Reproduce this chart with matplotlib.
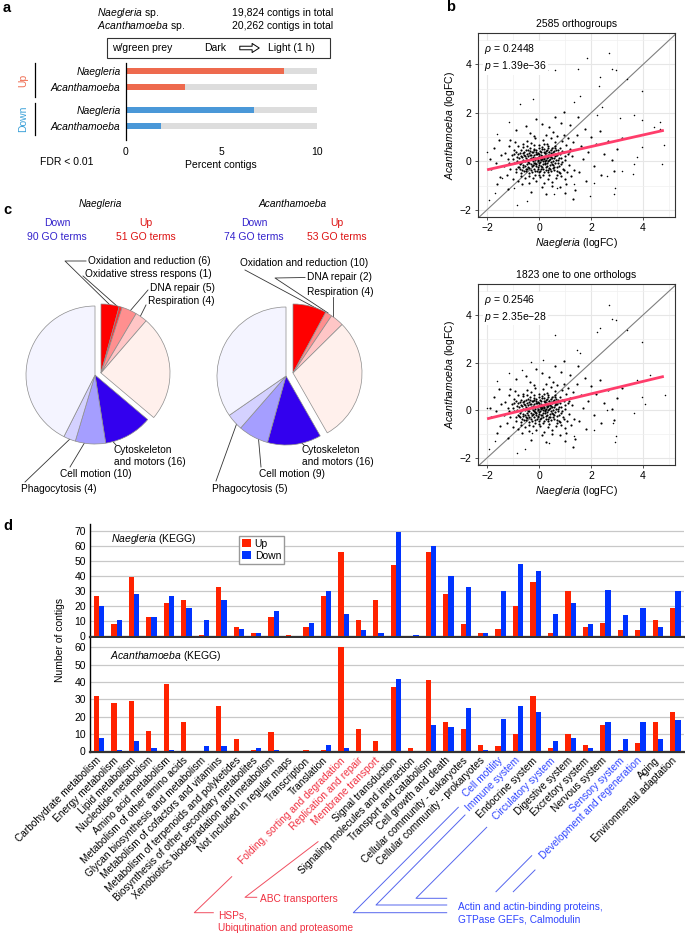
import numpy as np
import matplotlib
matplotlib.use('Agg')
import matplotlib.pyplot as plt

plt.rcParams['font.family'] = ['Liberation Sans', 'DejaVu Sans']
plt.rcParams['mathtext.fontset'] = 'custom'
plt.rcParams['mathtext.rm'] = 'Liberation Sans'
plt.rcParams['mathtext.it'] = 'Liberation Sans:italic'
plt.rcParams['font.size'] = 7.3

# ---------------- data ----------------
# a: percent of contigs changed (FDR < 0.01)
a_species = ['Naegleria', 'Acanthamoeba']
a_up = [8.3, 3.1]
a_down = [6.7, 1.85]
a_total = 10

# b: logFC scatter
cloud_pts = [
    (-0.75, -0.10), (-0.70, 0.22), (-0.66, -0.35), (-0.62, 0.05), (-0.58, 0.40), (-0.55, -0.18),
    (-0.52, 0.15), (-0.49, -0.42), (-0.46, 0.31), (-0.44, -0.02), (-0.41, 0.48), (-0.39, -0.27),
    (-0.36, 0.09), (-0.34, 0.26), (-0.31, -0.12), (-0.29, 0.38), (-0.27, -0.45), (-0.25, 0.02),
    (-0.22, 0.18), (-0.20, -0.30), (-0.18, 0.45), (-0.16, -0.08), (-0.13, 0.29), (-0.11, -0.20),
    (-0.09, 0.12), (-0.07, -0.38), (-0.05, 0.36), (-0.03, 0.00), (-0.01, 0.21), (0.01, -0.15),
    (0.03, 0.42), (0.05, -0.02), (0.07, 0.27), (0.09, -0.33), (0.11, 0.08), (0.13, 0.50),
    (0.15, -0.10), (0.17, 0.19), (0.19, -0.44), (0.21, 0.33), (0.23, 0.03), (0.25, -0.24),
    (0.27, 0.44), (0.29, 0.13), (0.31, -0.06), (0.33, 0.28), (0.35, -0.36), (0.37, 0.06),
    (0.39, 0.38), (0.41, -0.17), (0.43, 0.22), (0.45, 0.47), (0.47, -0.02), (0.50, 0.31),
    (0.53, -0.28), (0.56, 0.12), (0.59, 0.41), (0.62, -0.09), (0.65, 0.25), (0.68, -0.40),
    (0.71, 0.07), (0.74, 0.36), (0.77, -0.19), (-0.72, 0.35), (-0.60, -0.25), (-0.48, 0.06),
    (-0.38, -0.50), (-0.30, 0.12), (-0.21, 0.52), (-0.14, 0.05), (-0.06, -0.25), (0.00, 0.30),
    (0.06, 0.15), (0.12, -0.22), (0.18, 0.38), (0.24, -0.12), (0.30, 0.46), (0.36, 0.18),
    (0.42, -0.30), (0.48, 0.14), (0.54, -0.14), (0.60, 0.20), (0.66, 0.48), (0.72, -0.05),
    (-0.68, -0.48), (-0.57, 0.28), (-0.45, -0.33), (-0.33, 0.43), (-0.23, -0.15), (-0.10, 0.40),
    (-0.02, -0.45), (0.08, 0.04), (0.20, 0.09), (0.26, 0.24), (0.34, -0.46), (0.46, 0.34),
    (0.58, -0.35), (0.70, 0.28),
    (-0.85, 0.02), (-0.83, -0.22), (-0.80, 0.30), (-0.77, 0.12), (-0.74, -0.30), (-0.71, 0.45),
    (-0.69, -0.05), (-0.66, 0.18), (-0.63, -0.15), (-0.61, 0.33), (-0.59, -0.42), (-0.56, 0.02),
    (-0.54, 0.22), (-0.51, -0.30), (-0.50, 0.45), (-0.47, -0.10), (-0.43, 0.20), (-0.42, -0.22),
    (-0.40, 0.35), (-0.37, -0.05), (-0.35, 0.55), (-0.32, -0.35), (-0.30, 0.28), (-0.28, -0.20),
    (-0.26, 0.10), (-0.24, 0.40), (-0.21, -0.05), (-0.19, 0.25), (-0.17, -0.40), (-0.15, 0.15),
    (-0.12, 0.48), (-0.10, -0.12), (-0.08, 0.32), (-0.06, 0.06), (-0.04, -0.30), (-0.02, 0.55),
    (0.00, -0.08), (0.02, 0.15), (0.04, -0.38), (0.06, 0.40), (0.08, -0.18), (0.10, 0.24),
    (0.12, 0.60), (0.14, 0.02), (0.16, -0.30), (0.18, 0.12), (0.20, 0.50), (0.22, -0.05),
    (0.24, 0.36), (0.26, -0.35), (0.28, 0.05), (0.30, 0.22), (0.32, -0.20), (0.34, 0.55),
    (0.36, 0.00), (0.38, -0.28), (0.40, 0.26), (0.42, 0.08), (0.44, -0.42), (0.46, 0.16),
    (0.48, 0.55), (0.50, -0.10), (0.52, 0.40), (0.55, 0.00), (0.57, -0.22), (0.60, 0.30),
    (0.63, 0.55), (0.66, 0.05), (0.69, -0.25), (0.72, 0.45), (0.75, 0.15), (0.78, -0.45),
    (0.82, 0.30), (0.85, -0.12), (0.88, 0.42), (0.90, -0.02), (-0.88, 0.40), (-0.90, -0.30),
    (-0.62, 0.58), (-0.40, -0.62), (-0.20, 0.66), (0.00, -0.58), (0.20, 0.70), (0.40, -0.58),
    (0.60, 0.65), (0.80, -0.50), (-1.00, 0.10), (1.00, 0.20), (-0.15, -0.55), (0.15, -0.55),
    (0.35, 0.62), (-0.45, 0.62), (0.70, -0.55), (-0.70, -0.62), (1.15, 0.40), (-1.15, -0.05),
    (0.95, -0.35), (-0.95, 0.30),
    (-1.35, -0.20), (-1.30, 0.35), (-1.25, -0.55), (-1.20, 0.10), (-1.15, 0.62), (-1.10, -0.30),
    (-1.05, 0.25), (-1.00, -0.72), (-0.98, 0.48), (-0.95, -0.05), (-0.92, 0.80), (-0.88, -0.45),
    (-0.85, 0.18), (-0.82, 0.65), (-0.80, -0.80), (-0.78, -0.25), (0.80, 0.55), (0.83, -0.60),
    (0.86, 0.15), (0.89, 0.85), (0.92, -0.30), (0.95, 0.40), (0.98, -0.75), (1.01, 0.05),
    (1.04, 0.68), (1.07, -0.45), (1.10, 0.30), (1.13, 0.95), (1.16, -0.15), (1.20, 0.52),
    (1.24, -0.62), (1.28, 0.20), (1.32, 0.78), (1.36, -0.35), (-0.60, 0.70), (-0.45, 0.85),
    (-0.30, 0.75), (-0.15, 0.95), (0.00, 0.68), (0.15, 0.88), (0.30, 0.72), (0.45, 0.98),
    (0.60, 0.80), (0.70, 1.05), (-0.55, -0.70), (-0.40, -0.88), (-0.25, -0.68), (-0.10, -0.82),
    (0.05, -0.65), (0.20, -0.90), (0.35, -0.72), (0.50, -0.85), (0.65, -0.68), (0.25, 1.10),
    (-0.20, 1.05), (0.50, -1.00), (-0.65, -0.95), (0.95, 1.10), (1.05, -0.95), (-1.10, 0.90),
    (0.10, -1.05), (-0.35, 1.18), (0.55, 1.20), (0.80, -1.05),
    (-1.85, -0.30), (-1.75, 0.55), (-1.65, -0.05), (-1.55, 0.90), (-1.50, -0.65), (-1.45, 0.25),
    (-1.60, -0.95), (-1.90, 0.10), (1.45, 1.10), (1.55, -0.45), (1.60, 0.65), (1.70, 0.10),
    (1.75, 1.35), (1.80, -0.80), (1.90, 0.40), (2.00, 1.00), (2.10, -0.20), (2.20, 0.70),
    (2.35, 1.25), (2.40, -0.55), (2.50, 0.30), (2.65, 0.85), (-0.90, 1.30), (-0.50, 1.45),
    (0.10, 1.55), (0.40, 1.40), (0.85, 1.60), (1.20, 1.50), (1.40, -1.20), (-1.20, -1.15),
    (-0.30, -1.25), (0.25, -1.35), (1.00, -1.30), (1.50, 1.85), (0.95, 2.05), (0.60, 1.85),
    (-0.10, 1.75), (1.30, -1.55), (2.80, 0.05), (3.00, 0.50), (2.90, -0.40), (3.20, 0.95),
]
outliers_og = [
    (2.68, 4.46), (1.85, 4.28), (0.31, 3.79), (0.63, 3.77), (1.50, 3.82), (2.81, 3.82),
    (2.97, 3.77), (2.36, 3.49), (2.29, 3.10), (3.96, 2.89), (3.38, 3.38), (-0.23, 2.58),
    (-0.72, 2.37), (1.59, 2.68), (1.33, 2.47), (2.42, 2.26), (2.23, 1.91), (3.64, 1.91),
    (3.13, 1.77), (3.96, 1.70), (4.67, 1.63), (4.41, 1.42), (4.67, 1.35), (-1.17, 1.63),
    (-1.62, 1.14), (-2.00, 0.38), (4.79, 0.66), (3.96, 0.59), (3.77, 0.17), (3.64, -0.11),
    (4.73, -0.11), (3.19, -0.39), (3.62, -0.53), (2.10, -0.88), (2.62, -0.60), (2.92, -1.09),
    (2.90, -1.34), (-1.68, -1.30), (-0.85, -1.79), (-0.46, -1.65), (-1.94, -1.58), (0.56, -1.37),
    (1.33, -0.95), (1.97, -1.44), (0.69, -1.09), (-1.42, -0.67), (-0.97, -1.09),
]
outliers_oto = [
    (2.68, 4.40), (0.28, 3.78), (0.63, 3.15), (2.81, 3.81), (2.97, 3.78), (2.36, 3.47),
    (2.23, 3.29), (3.38, 3.36), (3.96, 2.85), (1.46, 2.53), (1.59, 2.39), (0.15, 2.11),
    (-0.31, 2.04), (-1.17, 1.58), (-0.65, 1.69), (-1.62, 1.21), (3.77, 1.28), (4.28, 1.49),
    (4.86, 0.65), (3.96, 0.56), (4.09, 0.28), (3.64, -0.11), (2.62, 0.03), (2.10, -0.81),
    (2.85, -0.53), (2.97, -1.08), (2.94, -1.33), (-1.68, -1.29), (-0.85, -1.81), (-0.53, -1.61),
    (-2.00, 0.10), (-1.94, -1.61), (0.37, -1.39), (1.33, -1.08), (-0.27, -0.94),
]
reg_x = [-2.0, 4.8]
reg_og = [-0.35, 1.28]
reg_oto = [-0.36, 1.42]

# c: GO term pies
nae_up = [6, 1, 5, 4, 35]
nae_down = [16, 10, 4, 60]
aca_up = [10, 2, 4, 37]
aca_down = [16, 9, 5, 44]

# d: KEGG categories
kegg = ['Carbohydrate metabolism', 'Energy metabolism', 'Lipid metabolism',
        'Nucleotide metabolism', 'Amino acid metabolism', 'Metabolism of other amino acids',
        'Glycan biosynthesis and metabolism', 'Metabolism of cofactors and vitamins',
        'Metabolism of terpenoids and polyketides', 'Biosynthesis of other secondary metabolites',
        'Xenobiotics biodegradation and metabolism', 'Not included in regular maps',
        'Transcription', 'Translation', 'Folding, sorting and degradation',
        'Replication and repair', 'Membrane transport', 'Signal transduction',
        'Signaling molecules and interaction', 'Transport and catabolism',
        'Cell growth and death', 'Cellular community - eukaryotes',
        'Cellular community - prokaryotes', 'Cell motility', 'Immune system',
        'Endocrine system', 'Circulatory system', 'Digestive system', 'Excretory system',
        'Nervous system', 'Sensory system', 'Development and regeneration', 'Aging',
        'Environmental adaptation']
nae_kegg_up = [27, 8, 39, 13, 22, 24, 1, 33, 6, 2, 13, 1, 6, 27, 56, 11, 24, 47, 0, 56,
               28, 8, 2, 5, 20, 36, 2, 30, 6, 9, 4, 4, 11, 19]
nae_kegg_down = [20, 11, 28, 13, 27, 19, 11, 24, 5, 2, 17, 0, 9, 30, 15, 4, 2, 69, 1, 60,
                 40, 33, 2, 30, 48, 43, 15, 22, 8, 31, 14, 19, 6, 30]
aca_kegg_up = [32, 28, 29, 12, 39, 17, 0, 26, 7, 1, 11, 0, 1, 1, 60, 13, 6, 37, 2, 41,
               17, 13, 4, 3, 10, 32, 2, 10, 4, 15, 1, 5, 17, 23]
aca_kegg_down = [8, 1, 6, 2, 1, 0, 3, 3, 0, 2, 1, 0, 0, 4, 2, 0, 0, 42, 0, 15,
                 14, 25, 1, 19, 26, 23, 6, 8, 2, 17, 7, 17, 7, 18]
kegg_red = ['Folding, sorting and degradation', 'Replication and repair', 'Membrane transport']
kegg_blue = ['Cell motility', 'Immune system', 'Circulatory system', 'Sensory system',
             'Development and regeneration']

# ---------------- figure ----------------
W, H = 685, 935
fig = plt.figure(figsize=(W / 100, H / 100), dpi=100)


def px_axes(x0, y0, x1, y1):
    return fig.add_axes([x0 / W, 1 - y1 / H, (x1 - x0) / W, (y1 - y0) / H])


ov = px_axes(0, 0, W, H)
ov.set_xlim(0, W)
ov.set_ylim(H, 0)
ov.axis('off')

RED_UP, BLUE_DN = '#EE6A4E', '#4A98D8'

# ---- panel a ----
ax_a = px_axes(126, 63, 316.7, 140)
ypos = [0, 1, 2.44, 3.44]
ax_a.barh(ypos, [a_total] * 4, height=0.4, color='#DDDDDD')
ax_a.barh(ypos[:2], a_up, height=0.4, color=RED_UP)
ax_a.barh(ypos[2:], a_down, height=0.4, color=BLUE_DN)
ax_a.set_xlim(0, 10)
ax_a.set_ylim(4.31, -0.5)
ax_a.set_yticks(ypos)
ax_a.set_yticklabels(a_species * 2, style='italic', fontsize=7.5)
ax_a.set_xticks([0, 5, 10])
ax_a.tick_params(length=0, labelsize=7.5)
ax_a.tick_params(axis='y', pad=4)
ax_a.tick_params(axis='x', pad=5)
for s in ['top', 'right', 'bottom']:
    ax_a.spines[s].set_visible(False)
ax_a.spines['left'].set_linewidth(0.9)

ov.text(97, 13, r'$\it{Naegleria}$ sp.', va='center', fontsize=7.5)
ov.text(97, 26, r'$\it{Acanthamoeba}$ sp.', va='center', fontsize=7.5)
ov.text(333, 13, '19,824 contigs in total', va='center', ha='right', fontsize=7.5)
ov.text(333, 26, '20,262 contigs in total', va='center', ha='right', fontsize=7.5)
ov.add_patch(plt.Rectangle((107, 38), 223, 20, fill=False, ec='#333333', lw=0.8))
ov.text(112, 48, 'w/green prey', va='center', fontsize=7.5)
ov.text(204, 48, 'Dark', va='center', fontsize=7.5)
ov.annotate('', xy=(262, 48), xytext=(237, 48),
            arrowprops=dict(arrowstyle='simple,head_width=0.9,head_length=0.7,tail_width=0.35',
                            fc='white', ec='black', lw=0.7))
ov.text(268, 48, 'Light (1 h)', va='center', fontsize=7.5)
ov.plot([35, 35], [63, 97], color='black', lw=0.9)
ov.plot([35, 35], [103, 135], color='black', lw=0.9)
ov.text(23, 80, 'Up', rotation=90, ha='center', va='center', color=RED_UP, fontsize=7.5)
ov.text(23, 119, 'Down', rotation=90, ha='center', va='center', color='#3AA0D8', fontsize=7.5)
ov.text(40, 162, 'FDR < 0.01', va='center', fontsize=7.5)
ov.text(221, 165, 'Percent contigs', va='center', ha='center', fontsize=7.5)

# ---- panel b ----
for box, title, outl, reg, rho, pval in [
        ((478, 33, 675, 217), '2585 orthogroups', outliers_og, reg_og, '0.2448', '1.39e\u221236'),
        ((478, 284, 675, 465), '1823 one to one orthologs', outliers_oto, reg_oto, '0.2546', '2.35e\u221228')]:
    ax = px_axes(*box)
    cloud = np.array(cloud_pts)
    outp = np.array(outl)
    ax.set_xlim(-2.35, 5.23)
    ax.set_ylim(-2.3, 5.3)
    ax.set_xticks([-2, 0, 2, 4])
    ax.set_yticks([-2, 0, 2, 4])
    ax.set_xticks([-1, 1, 3, 5], minor=True)
    ax.set_yticks([-1, 1, 3, 5], minor=True)
    ax.grid(which='major', color='#E6E6E6', lw=0.8)
    ax.grid(which='minor', color='#F0F0F0', lw=0.5)
    ax.set_axisbelow(True)
    ax.tick_params(which='minor', length=0)
    ax.tick_params(which='major', length=2.5, width=0.6, color='#333333', labelsize=7.5, pad=2)
    for s in ax.spines.values():
        s.set_color('#333333')
        s.set_linewidth(0.8)
    ax.axline((0, 0), slope=1, color='#7F7F7F', lw=0.8, zorder=2)
    ax.scatter(cloud[:, 0], cloud[:, 1], s=2.4, color='black', linewidths=0, zorder=3)
    ax.scatter(outp[:, 0], outp[:, 1], s=1.2, color='black', linewidths=0, zorder=3)
    ax.plot(reg_x, reg, color='#FF3D6B', lw=2.0, zorder=4, solid_capstyle='butt')
    ax.set_title(title, fontsize=7.5, pad=4)
    ax.set_xlabel(r'$\it{Naegleria}$ (logFC)', fontsize=7.5, labelpad=2)
    ax.set_ylabel(r'$\it{Acanthamoeba}$ (logFC)', fontsize=7.5, labelpad=2)
    ax.text(0.03, 0.95, r'$\it{\rho}$ = ' + rho + '\n' + r'$\it{p}$ = ' + pval,
            transform=ax.transAxes, va='top', ha='left', fontsize=7.5, linespacing=1.3,
            bbox=dict(fc='white', ec='none', pad=1), zorder=5)

# ---- panel c ----
pc = px_axes(0, 180, 400, 510)
edge = dict(edgecolor='#8C8C8C', linewidth=0.5)


def split_pie(up, down, up_cols, down_cols, cx, cy, dx, dy):
    total = sum(up) + sum(down)
    w1, _ = pc.pie(up + [sum(down)], colors=up_cols + ['white'], startangle=90,
                   counterclock=False, radius=69, center=(cx + dx, -cy + dy),
                   frame=True, wedgeprops=edge)
    w1[-1].set_visible(False)
    w2, _ = pc.pie(down + [sum(up)], colors=down_cols + ['white'],
                   startangle=90 - 360 * sum(up) / total, counterclock=False, radius=69,
                   center=(cx, -cy), frame=True, wedgeprops=edge)
    w2[-1].set_visible(False)


split_pie(nae_up, nae_down, ['#FF0000', '#FF3030', '#FF8F8F', '#FFC6C6', '#FFF0EC'],
          ['#3300EE', '#A59EFF', '#D4D1FF', '#F4F4FF'], 95, 375, 6, 2)
split_pie(aca_up, aca_down, ['#FF0000', '#FF8F8F', '#FFC6C6', '#FFF0EC'],
          ['#3300EE', '#A59EFF', '#D4D1FF', '#F4F4FF'], 286, 376, 7, 3)
pc.set_xlim(0, 400)
pc.set_ylim(-510, -180)
pc.axis('off')

DN_C, UP_C = '#3322CC', '#DD1111'
ov.text(100, 204, 'Naegleria', style='italic', ha='center', va='center')
ov.text(293, 204, 'Acanthamoeba', style='italic', ha='center', va='center')
for x, t1, t2, c in [(57, 'Down', '90 GO terms', DN_C), (146, 'Up', '51 GO terms', UP_C),
                     (254, 'Down', '74 GO terms', DN_C), (337, 'Up', '53 GO terms', UP_C)]:
    ov.text(x, 223, t1, ha='center', va='center', color=c, fontsize=7.5)
    ov.text(x, 237, t2, ha='center', va='center', color=c, fontsize=7.5)

pie_labels = [
    (88, 261, 'Oxidation and reduction (6)', [(86, 261), (65, 261), (111, 306)]),
    (85, 274, 'Oxidative stress respons (1)', [(83, 276), (118, 307)]),
    (150, 288, 'DNA repair (5)', [(148, 290), (130, 311)]),
    (148, 301, 'Respiration (4)', [(146, 305), (140, 317)]),
    (114, 450, 'Cytoskeleton', [(116, 445), (108, 436)]),
    (114, 462, 'and motors (16)', None),
    (60, 474, 'Cell motion (10)', [(70, 467), (88, 437)]),
    (21, 489, 'Phagocytosis (4)', [(25, 482), (72, 437)]),
    (240, 263, 'Oxidation and reduction (10)', [(245, 270), (325, 313)]),
    (307, 277, 'DNA repair (2)', [(305, 277.5), (275, 278), (328, 313)]),
    (307, 292, 'Respiration (4)', [(333, 297), (333, 320)]),
    (302, 450, 'Cytoskeleton', [(304, 445), (294, 436)]),
    (302, 462, 'and motors (16)', None),
    (259, 474, 'Cell motion (9)', [(261, 467), (258, 433)]),
    (212, 489, 'Phagocytosis (5)', [(216, 481), (238, 420)]),
]
for x, y, t, line in pie_labels:
    ov.text(x, y, t, va='center', ha='left')
    if line:
        ov.plot([p[0] for p in line], [p[1] for p in line], color='#333333', lw=0.6)
for x, t in [(60, 'Others\n60'), (142, 'Others\n35'), (252, 'Others\n44'), (336, 'Others\n37')]:
    ov.text(x, 372, t, ha='center', va='center', linespacing=1.5)

# ---- panel d ----
xs = np.arange(len(kegg))
RED_D, BLUE_D = '#FF2200', '#0033FF'
for box, up, dn, ylim, yt, name, name_xy in [
        ((90, 524, 684, 637), nae_kegg_up, nae_kegg_down, (-0.5, 74.5), range(0, 71, 10),
         r'$\it{Naegleria}$ (KEGG)', (0.7, 64.5)),
        ((90, 638, 684, 752), aca_kegg_up, aca_kegg_down, (-0.3, 65.4), range(0, 61, 10),
         r'$\it{Acanthamoeba}$ (KEGG)', (0.63, 54.8))]:
    ax = px_axes(*box)
    ax.bar(xs - 0.15, up, width=0.3, color=RED_D, label='Up', zorder=3)
    ax.bar(xs + 0.15, dn, width=0.3, color=BLUE_D, label='Down', zorder=3)
    ax.set_xlim(-0.52, 33.5)
    ax.set_ylim(*ylim)
    ax.set_yticks(list(yt))
    ax.yaxis.grid(True, color='#C8C8C8', lw=0.9)
    ax.set_axisbelow(True)
    for s in ['top', 'right']:
        ax.spines[s].set_visible(False)
    ax.spines['left'].set_linewidth(1.0)
    ax.spines['bottom'].set_linewidth(1.6)
    ax.spines['bottom'].set_color('#333333')
    ax.tick_params(axis='y', length=0, labelsize=7.5, pad=3)
    ax.tick_params(axis='x', length=0)
    ax.text(name_xy[0], name_xy[1], name, fontsize=7.5, va='center', ha='left')
    if up is nae_kegg_up:
        ax.set_xticks([])
        ax.legend(loc='upper left', bbox_to_anchor=(0.251, 0.894), borderaxespad=0,
                  fancybox=False, edgecolor='#999999', fontsize=7.5, handlelength=0.8,
                  handleheight=0.8, handletextpad=0.4, borderpad=0.3, labelspacing=0.15,
                  framealpha=1)
    else:
        ax.set_xticks(xs)
        ax.set_xticklabels(kegg, rotation=45, ha='right', va='center',
                           rotation_mode='anchor', fontsize=7.3)
        ax.tick_params(axis='x', pad=5)
        for lbl in ax.get_xticklabels():
            if lbl.get_text() in kegg_red:
                lbl.set_color('#F03040')
            elif lbl.get_text() in kegg_blue:
                lbl.set_color('#2F45FF')

ov.text(60, 640, 'Number of contigs', rotation=90, ha='center', va='center', fontsize=7.5)

RL, BL = '#F04F60', '#5566EE'
for line in [[(231.7, 876.7), (194.3, 912.7), (213.3, 912.7)],
             [(318, 841.7), (245, 897.3), (256.7, 897.3)]]:
    ov.plot([p[0] for p in line], [p[1] for p in line], color=RL, lw=0.7)
ov.text(260, 898.5, 'ABC transporters', color='#F03040', va='center')
ov.text(218, 915, 'HSPs,', color='#F03040', va='center')
ov.text(218, 928.3, 'Ubiqutination and proteasome', color='#F03040', va='center')
for line in [[(486.7, 827.3), (416, 898.3), (446.7, 898.3)],
             [(465, 815), (376, 905), (446.7, 905)],
             [(458.3, 807.3), (353.3, 912.7), (446.7, 912.7)],
             [(496, 891.7), (531.7, 855.7)],
             [(513.3, 891.7), (535, 870)]]:
    ov.plot([p[0] for p in line], [p[1] for p in line], color=BL, lw=0.7)
ov.text(458.3, 906.7, 'Actin and actin-binding proteins,', color='#2F45FF', va='center')
ov.text(458.3, 919.3, 'GTPase GEFs, Calmodulin', color='#2F45FF', va='center')

# panel letters
for x, y, t in [(3, 8, 'a'), (446, 7, 'b'), (3, 210, 'c'), (3, 526, 'd')]:
    ov.text(x, y, t, fontsize=10.5, fontweight='bold', va='center')

fig.savefig('out.png', dpi=100)
